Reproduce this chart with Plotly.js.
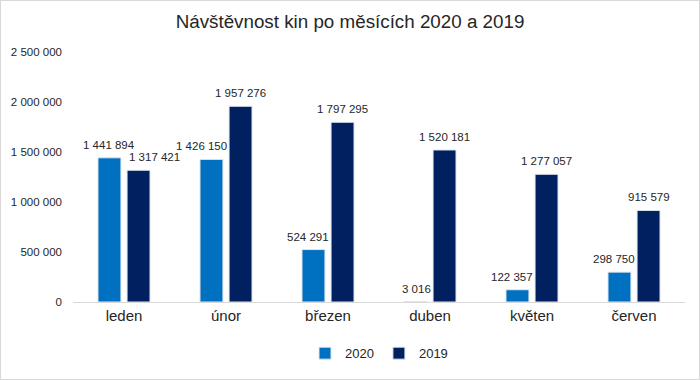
<!DOCTYPE html>
<html><head><meta charset="utf-8">
<script src="https://cdn.plot.ly/plotly-3.0.1.min.js"></script>
<style>body{margin:0;}#c{width:700px;height:380px;box-sizing:border-box;border:1px solid #d9d9d9;}</style>
</head><body><div id="c"></div>
<script>
const months = ["leden","únor","březen","duben","květen","červen"];
const v2020 = [1441894,1426150,524291,3016,122357,298750];
const v2019 = [1317421,1957276,1797295,1520181,1277057,915579];
const yTicks = [0,500000,1000000,1500000,2000000,2500000];

const font = "Liberation Sans, Arial, sans-serif";
const W = 0.225, OFF20 = -0.255, OFF19 = 0.03;
const mk = (name, y, color, off) => ({
  type: "bar", name: name, x: months, y: y, offset: off, width: W,
  marker: {color: color, line: {color: "#dfe6ef", width: 1}},
  hoverinfo: "skip"
});
const data = [mk("2020", v2020, "#0070C0", OFF20), mk("2019", v2019, "#002060", OFF19)];

// data labels placed like Excel does: shifted aside when they would collide
const fmt = v => String(v).replace(/\B(?=(\d{3})+(?!\d))/g, " ");
const plotW = 698 - 72 - 14, catPx = plotW / months.length;
const lblFont = {family: font, size: 11.5, color: "#262626"};
const annotations = [];
months.forEach((m, i) => {
  const a = v2020[i], b = v2019[i];
  if (a > b) {
    annotations.push({x: m, y: a, text: fmt(a), showarrow: false, xanchor: "center", yanchor: "bottom", yshift: 5, xshift: (OFF20 + W / 2) * catPx, font: lblFont});
    annotations.push({x: m, y: b, text: fmt(b), showarrow: false, xanchor: "left", yanchor: "bottom", yshift: 5, xshift: OFF19 * catPx, font: lblFont});
  } else {
    annotations.push({x: m, y: a, text: fmt(a), showarrow: false, xanchor: "right", yanchor: "bottom", yshift: 5, xshift: OFF19 * catPx, font: lblFont});
    annotations.push({x: m, y: b, text: fmt(b), showarrow: false, xanchor: "center", yanchor: "bottom", yshift: 5, xshift: (OFF19 + W / 2) * catPx, font: lblFont});
  }
});

const layout = {
  width: 698, height: 378,
  margin: {l: 72, r: 14, t: 51, b: 76},
  separators: ", ",
  title: {text: "Návštěvnost kin po měsících 2020 a 2019", font: {family: font, size: 18.8, color: "#262626"}, x: 0.5, xanchor: "center", y: 0.945, yanchor: "middle"},
  barmode: "overlay",
  annotations: annotations,
  xaxis: {showline: true, linecolor: "#d9d9d9", linewidth: 1, ticks: "", tickfont: {family: font, size: 15, color: "#262626"}, showgrid: false},
  yaxis: {range: [0, 2500000], tickvals: yTicks, tickformat: ",d", showgrid: false, zeroline: false, showline: false, ticks: "", tickfont: {family: font, size: 11.5, color: "#262626"}, ticklabelstandoff: 10},
  legend: {orientation: "h", x: 0.5, xanchor: "center", y: -0.2, yanchor: "middle", itemwidth: 30, font: {family: font, size: 13, color: "#262626"}},
  paper_bgcolor: "#ffffff", plot_bgcolor: "#ffffff"
};
Plotly.newPlot("c", data, layout, {displayModeBar: false, staticPlot: true});
</script></body></html>
